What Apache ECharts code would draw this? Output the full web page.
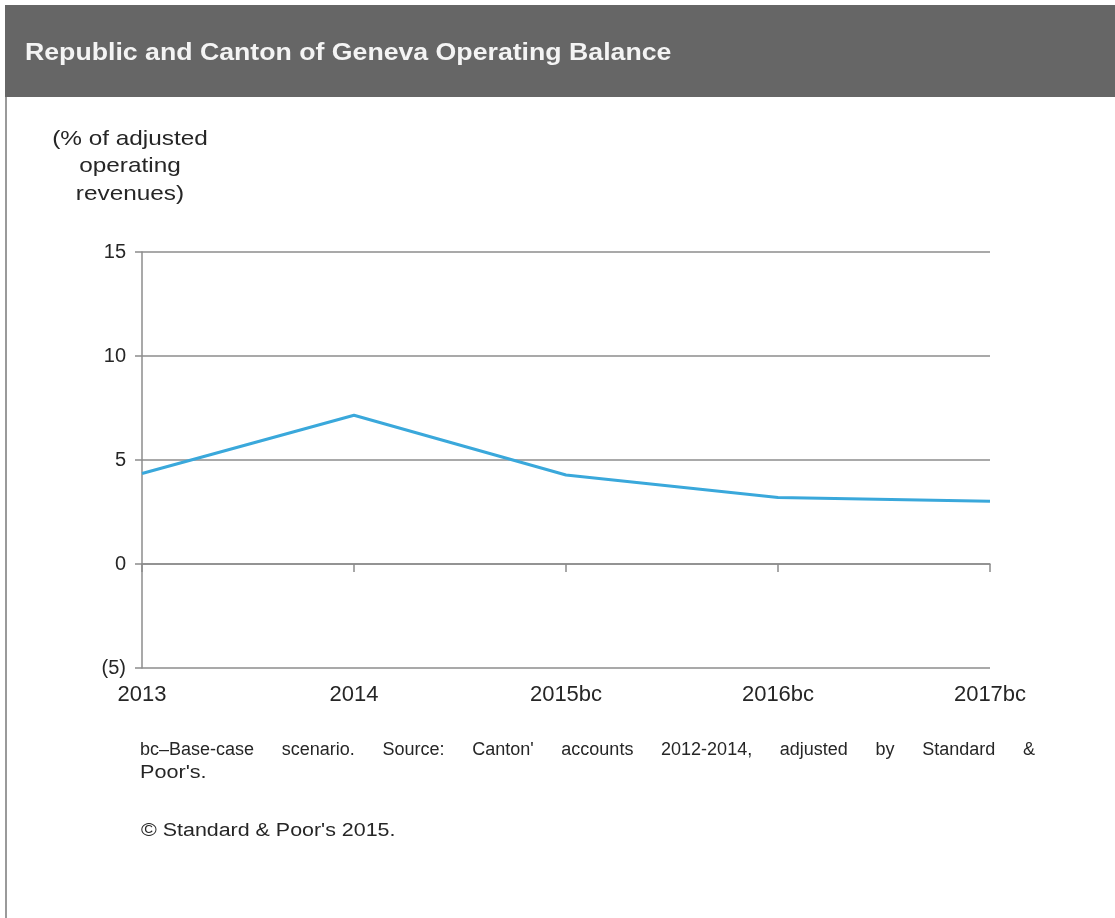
<!DOCTYPE html>
<html>
<head>
<meta charset="utf-8">
<script src="https://cdn.jsdelivr.net/npm/echarts@6/dist/echarts.min.js"></script>
<style>
html,body{margin:0;padding:0;background:#fff;}
#c{width:1115px;height:918px;}
</style>
</head>
<body>
<div id="c"></div>
<script>
var categories = ['2013', '2014', '2015bc', '2016bc', '2017bc'];
var operatingBalance = [4.35, 7.15, 4.28, 3.2, 3.02];
var yTicks = { min: -5, max: 15, interval: 5 };
var titleText = 'Republic and Canton of Geneva Operating Balance';
var yName = ['(% of adjusted', 'operating', 'revenues)'];
var footWords = ['bc\u2013Base-case', 'scenario.', 'Source:', "Canton'", 'accounts', '2012-2014,', 'adjusted', 'by', 'Standard', '&'];
var footLine2 = "Poor's.";
var copyright = "\u00A9 Standard & Poor's 2015.";

var chart = echarts.init(document.getElementById('c'));
var axisColor = '#8c8c8c';
var textColor = '#262626';
var font = 'Arial, "Liberation Sans", sans-serif';
var footFont = '18px ' + font;

// justify footnote line 1 between x=140 and x=1035
var cv = document.createElement('canvas').getContext('2d');
cv.font = footFont;
var widths = footWords.map(function (w) { return cv.measureText(w).width; });
var total = widths.reduce(function (a, b) { return a + b; }, 0);
var lineL = 140, lineR = 1035;
var gap = (lineR - lineL - total) / (footWords.length - 1);
var wordX = [];
var cx = lineL;
widths.forEach(function (w) { wordX.push(cx); cx += w + gap; });

var graphics = [
  { type: 'rect', left: 5, top: 5, shape: { width: 1110, height: 92 }, style: { fill: '#666666' }, silent: true },
  { type: 'rect', left: 5, top: 97, shape: { width: 2, height: 821 }, style: { fill: '#9a9a9a' }, silent: true },
  { type: 'text', x: 25, y: 54, scaleX: 1.16, style: { text: titleText, fill: '#f4f4f4', font: 'bold 23px ' + font, textVerticalAlign: 'middle' } }
];
yName.forEach(function (t, i) {
  graphics.push({ type: 'text', x: 130, y: 139 + i * 27.5, scaleX: 1.16, style: { text: t, fill: textColor, font: '21px ' + font, textAlign: 'center', textVerticalAlign: 'middle' } });
});
footWords.forEach(function (w, i) {
  graphics.push({ type: 'text', x: wordX[i], y: 750, style: { text: w, fill: textColor, font: footFont, textVerticalAlign: 'middle' } });
});
graphics.push({ type: 'text', x: 140, y: 773, scaleX: 1.2, style: { text: footLine2, fill: textColor, font: footFont, textVerticalAlign: 'middle' } });
graphics.push({ type: 'text', x: 141, y: 831, scaleX: 1.19, style: { text: copyright, fill: textColor, font: footFont, textVerticalAlign: 'middle' } });

chart.setOption({
  animation: false,
  grid: { left: 142, right: 125, top: 252, bottom: 250 },
  xAxis: [
    {
      type: 'category', data: categories, boundaryGap: false,
      axisLine: { onZero: true, lineStyle: { color: axisColor, width: 1.5 } },
      axisTick: { show: true, length: 8, lineStyle: { color: axisColor, width: 1.5 } },
      axisLabel: { show: false }
    },
    {
      type: 'category', data: categories, boundaryGap: false, position: 'bottom',
      axisLine: { show: false, onZero: false }, axisTick: { show: false },
      axisLabel: { show: true, margin: 16, color: textColor, fontSize: 22, fontFamily: font }
    }
  ],
  yAxis: {
    type: 'value', min: yTicks.min, max: yTicks.max, interval: yTicks.interval,
    axisLine: { show: true, lineStyle: { color: axisColor, width: 1.5 } },
    axisTick: { show: true, length: 7, lineStyle: { color: axisColor, width: 1.5 } },
    splitLine: { show: true, lineStyle: { color: axisColor, width: 1.5 } },
    axisLabel: {
      margin: 16, color: textColor, fontSize: 20, fontFamily: font,
      formatter: function (v) { return v < 0 ? '(' + (-v) + ')' : String(v); }
    }
  },
  series: [{
    type: 'line', data: operatingBalance, xAxisIndex: 0,
    symbol: 'none', lineStyle: { color: '#3aa8db', width: 3 }
  }],
  graphic: graphics
});
</script>
</body>
</html>
